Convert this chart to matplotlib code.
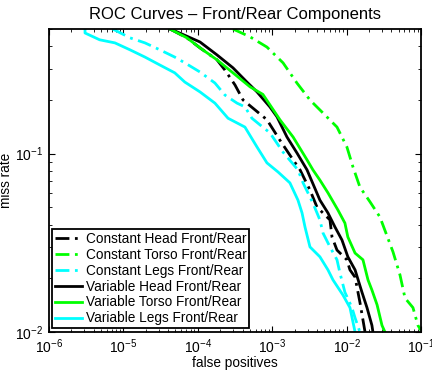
import matplotlib
matplotlib.use('Agg')
import matplotlib.pyplot as plt
from matplotlib.ticker import LogLocator, NullFormatter

plt.rcParams['font.family'] = ['Liberation Sans', 'DejaVu Sans']
plt.rcParams['mathtext.fontset'] = 'custom'
plt.rcParams['mathtext.rm'] = 'Liberation Sans'

# data (false positives, miss rate)
const_head_fp = [4.23e-5, 7.16e-5, 1.07e-4, 1.81e-4, 2.32e-4, 3.16e-4, 4.06e-4, 8.5e-4, 1.27e-3, 1.91e-3,
                 2.37e-3, 3.22e-3, 4.0e-3, 5.98e-3, 6.37e-3, 7.43e-3, 1.01e-2, 1.11e-2, 1.30e-2, 1.51e-2,
                 1.77e-2]
const_head_mr = [0.5, 0.446, 0.392, 0.336, 0.294, 0.243, 0.200, 0.155, 0.119, 0.0923,
                 0.0811, 0.0625, 0.0502, 0.0425, 0.0341, 0.0288, 0.0254, 0.0223, 0.0203, 0.0147,
                 0.01]

const_torso_fp = [2.97e-4, 5.04e-4, 8.5e-4, 1.40e-3, 2.15e-3, 3.22e-3, 4.82e-3, 7.43e-3, 1.01e-2, 1.22e-2,
                  1.51e-2, 2.07e-2, 2.81e-2, 3.08e-2, 4.21e-2, 5.22e-2, 6.1e-2, 7.8e-2, 9.1e-2, 0.1]
const_torso_mr = [0.5, 0.452, 0.396, 0.323, 0.249, 0.200, 0.169, 0.141, 0.109, 0.0841,
                  0.065, 0.0536, 0.0441, 0.0398, 0.0281, 0.0209, 0.0155, 0.0137, 0.0109, 0.0102]

const_legs_fp = [7.2e-6, 1.23e-5, 1.95e-5, 3.1e-5, 4.9e-5, 6.7e-5, 1.07e-4, 1.70e-4, 2.32e-4, 3.37e-4,
                 4.3e-4, 5.34e-4, 6.86e-4, 9.3e-4, 1.40e-3, 2.22e-3, 2.6e-3, 3.53e-3, 4.38e-3, 4.82e-3,
                 5.98e-3, 7.43e-3, 8.15e-3, 9.5e-3, 1.18e-2, 1.30e-2, 1.51e-2]
const_legs_mr = [0.5, 0.446, 0.418, 0.382, 0.348, 0.323, 0.287, 0.249, 0.213, 0.192,
                 0.183, 0.158, 0.145, 0.131, 0.102, 0.0811, 0.0686, 0.0528, 0.0425, 0.0359,
                 0.030, 0.0254, 0.0214, 0.0167, 0.0137, 0.0120, 0.01]

var_head_fp = [4.23e-5, 5.25e-5, 1.07e-4, 1.81e-4, 2.97e-4, 4.58e-4, 6.25e-4, 9.3e-4, 1.16e-3, 1.58e-3,
               2.15e-3, 2.94e-3, 4.38e-3, 5.62e-3, 6.98e-3, 8.67e-3, 1.04e-2, 1.30e-2, 1.61e-2, 1.88e-2,
               2.19e-2, 2.26e-2]
var_head_mr = [0.5, 0.482, 0.423, 0.358, 0.303, 0.252, 0.222, 0.183, 0.161, 0.124,
               0.101, 0.0811, 0.0549, 0.0465, 0.0388, 0.0328, 0.0264, 0.0223, 0.0167, 0.0137,
               0.0109, 0.01]

var_torso_fp = [4.23e-5, 7.16e-5, 1.07e-4, 1.81e-4, 2.97e-4, 5.04e-4, 7.5e-4, 1.27e-3, 1.91e-3, 2.94e-3,
                3.53e-3, 4.38e-3, 5.62e-3, 7.65e-3, 9.5e-3, 1.04e-2, 1.30e-2, 1.66e-2, 1.94e-2, 2.19e-2,
                2.57e-2, 2.99e-2, 3.28e-2]
var_torso_mr = [0.5, 0.446, 0.392, 0.336, 0.284, 0.237, 0.215, 0.155, 0.124, 0.0923,
                0.0811, 0.0711, 0.0603, 0.0483, 0.0408, 0.0341, 0.0277, 0.0254, 0.0196, 0.0172,
                0.0142, 0.0109, 0.01]

var_legs_fp = [3.05e-6, 3.05e-6, 4.8e-6, 7.7e-6, 1.23e-5, 1.95e-5, 3.1e-5, 4.9e-5, 6.7e-5, 1.07e-4,
               1.70e-4, 2.55e-4, 4.3e-4, 6.25e-4, 8.5e-4, 1.20e-3, 1.73e-3, 2.22e-3, 2.52e-3, 2.76e-3,
               3.22e-3, 4.38e-3, 5.62e-3, 6.56e-3, 8.95e-3, 1.11e-2, 1.30e-2]
var_legs_mr = [0.5, 0.475, 0.435, 0.418, 0.382, 0.348, 0.314, 0.284, 0.252, 0.222,
               0.192, 0.158, 0.141, 0.109, 0.0888, 0.0789, 0.0686, 0.0549, 0.0465, 0.0388,
               0.030, 0.0264, 0.0223, 0.0196, 0.0161, 0.0137, 0.01]

green = '#00ff00'
cyan = '#00ffff'
dashdot = (0, (5, 2, 1, 2))

fig = plt.figure(figsize=(4.32, 3.72), dpi=100)
ax = fig.add_axes([0.1134, 0.1075, 0.8611, 0.8145])

ax.plot(const_head_fp, const_head_mr, color='k', ls=dashdot, lw=2, label='Constant Head Front/Rear')
ax.plot(const_torso_fp, const_torso_mr, color=green, ls=dashdot, lw=2, label='Constant Torso Front/Rear')
ax.plot(const_legs_fp, const_legs_mr, color=cyan, ls=dashdot, lw=2, label='Constant Legs Front/Rear')
ax.plot(var_head_fp, var_head_mr, color='k', lw=2, label='Variable Head Front/Rear')
ax.plot(var_torso_fp, var_torso_mr, color=green, lw=2, label='Variable Torso Front/Rear')
ax.plot(var_legs_fp, var_legs_mr, color=cyan, lw=2, label='Variable Legs Front/Rear')

ax.set_xscale('log')
ax.set_yscale('log')
ax.set_xlim(1e-6, 1e-1)
ax.set_ylim(1e-2, 0.5)
ax.set_xticks([1e-6, 1e-5, 1e-4, 1e-3, 1e-2, 1e-1])
ax.set_yticks([1e-2, 1e-1])
ax.yaxis.set_minor_locator(LogLocator(base=10, subs=range(2, 10)))
ax.xaxis.set_minor_locator(LogLocator(base=10, subs=range(2, 10)))
ax.xaxis.set_minor_formatter(NullFormatter())
ax.yaxis.set_minor_formatter(NullFormatter())
ax.tick_params(which='both', direction='in', top=True, right=True, labelsize=10, colors='k')
ax.tick_params(which='major', length=4.5, width=0.8, pad=4)
ax.tick_params(which='minor', length=2.2, width=0.6)
for s in ax.spines.values():
    s.set_linewidth(1.3)

ax.set_title('ROC Curves \u2013 Front/Rear Components', fontsize=12, pad=7)
ax.set_xlabel('false positives', fontsize=9.8, labelpad=0)
ax.set_ylabel('miss rate', fontsize=9.8, labelpad=2)

leg = ax.legend(loc='lower left', bbox_to_anchor=(0.008, 0.013), borderaxespad=0,
                fontsize=9.8, fancybox=False, edgecolor='k', framealpha=1,
                handlelength=2.0, handletextpad=0.3, labelspacing=0.14, borderpad=0.2)
leg.get_frame().set_linewidth(1.3)

fig.savefig('out.png', dpi=100)
